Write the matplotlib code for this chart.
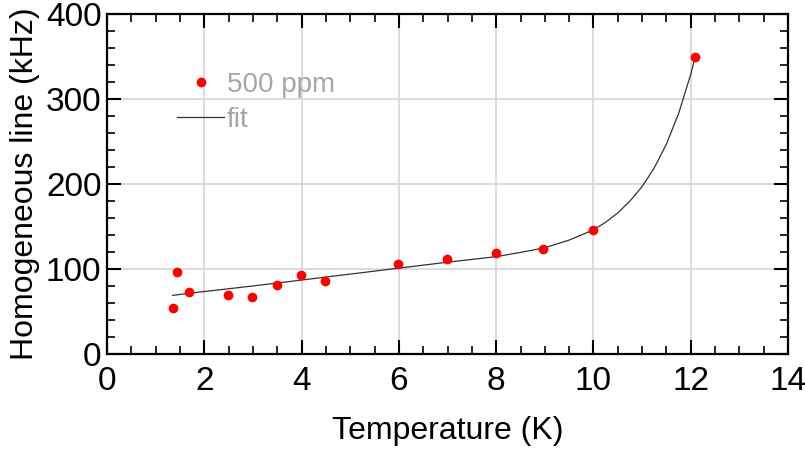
import matplotlib
matplotlib.use("Agg")
import matplotlib.pyplot as plt
from matplotlib.ticker import MultipleLocator

# measured points (500 ppm)
temp = [1.36, 1.43, 1.69, 2.49, 2.99, 3.49, 3.99, 4.49, 5.99, 6.98, 7.99, 8.97, 9.98, 12.09]
width = [53.8, 96.8, 73.3, 69.4, 67.5, 81.2, 92.9, 85.9, 105.9, 111.8, 118.8, 123.1, 145.9, 349.0]

# fit curve
fit_t = [1.35, 2.0, 3.0, 4.0, 5.0, 6.0, 7.0, 8.0, 8.5, 9.0, 9.5, 10.0, 10.25, 10.5,
         10.75, 11.0, 11.25, 11.5, 11.75, 12.0, 12.07]
fit_w = [69.0, 73.5, 80.0, 87.0, 94.0, 101.0, 108.0, 114.5, 119.5, 125.0, 134.0, 146.0,
         155.0, 166.0, 180.0, 197.0, 219.0, 247.0, 283.0, 329.0, 345.0]

plt.rcParams["font.family"] = ["Liberation Sans", "DejaVu Sans"]

fig = plt.figure(figsize=(8.05, 4.51), dpi=100)
ax = fig.add_axes([0.1329, 0.2151, 0.979 - 0.1329, 0.969 - 0.2151])

ax.plot(temp, width, "o", color="red", ms=7, mec="none", label="500 ppm", zorder=3)
ax.plot(fit_t, fit_w, "-", color="#333333", lw=0.9, label="fit", zorder=2)

ax.set_xlim(0, 14)
ax.set_ylim(0, 400)
ax.xaxis.set_major_locator(MultipleLocator(2))
ax.xaxis.set_minor_locator(MultipleLocator(0.5))
ax.yaxis.set_major_locator(MultipleLocator(100))
ax.yaxis.set_minor_locator(MultipleLocator(20))
ax.grid(True, which="major", color="#d9d9d9", lw=1.3, zorder=0)
ax.set_axisbelow(True)

for s in ax.spines.values():
    s.set_linewidth(1.6)

ax.tick_params(which="both", direction="in", top=True, right=True, labelsize=24)
ax.tick_params(which="major", length=10, width=1.5)
ax.tick_params(which="minor", length=5.5, width=1.2)
ax.tick_params(axis="x", pad=9)
ax.tick_params(axis="y", pad=4)

ax.set_xlabel("Temperature (K)", fontsize=23, labelpad=13)
ax.set_ylabel("Homogeneous line (kHz)", fontsize=23, labelpad=4)

leg = ax.legend(loc="upper left", bbox_to_anchor=(177 / 805, 1 - 72 / 451),
                bbox_transform=fig.transFigure, frameon=False, fontsize=20,
                handlelength=1.7, handletextpad=0.1, labelspacing=0.32,
                borderpad=0, borderaxespad=0)
for t in leg.get_texts():
    t.set_color("#a6a6a6")

fig.savefig("out.png", dpi=100)
